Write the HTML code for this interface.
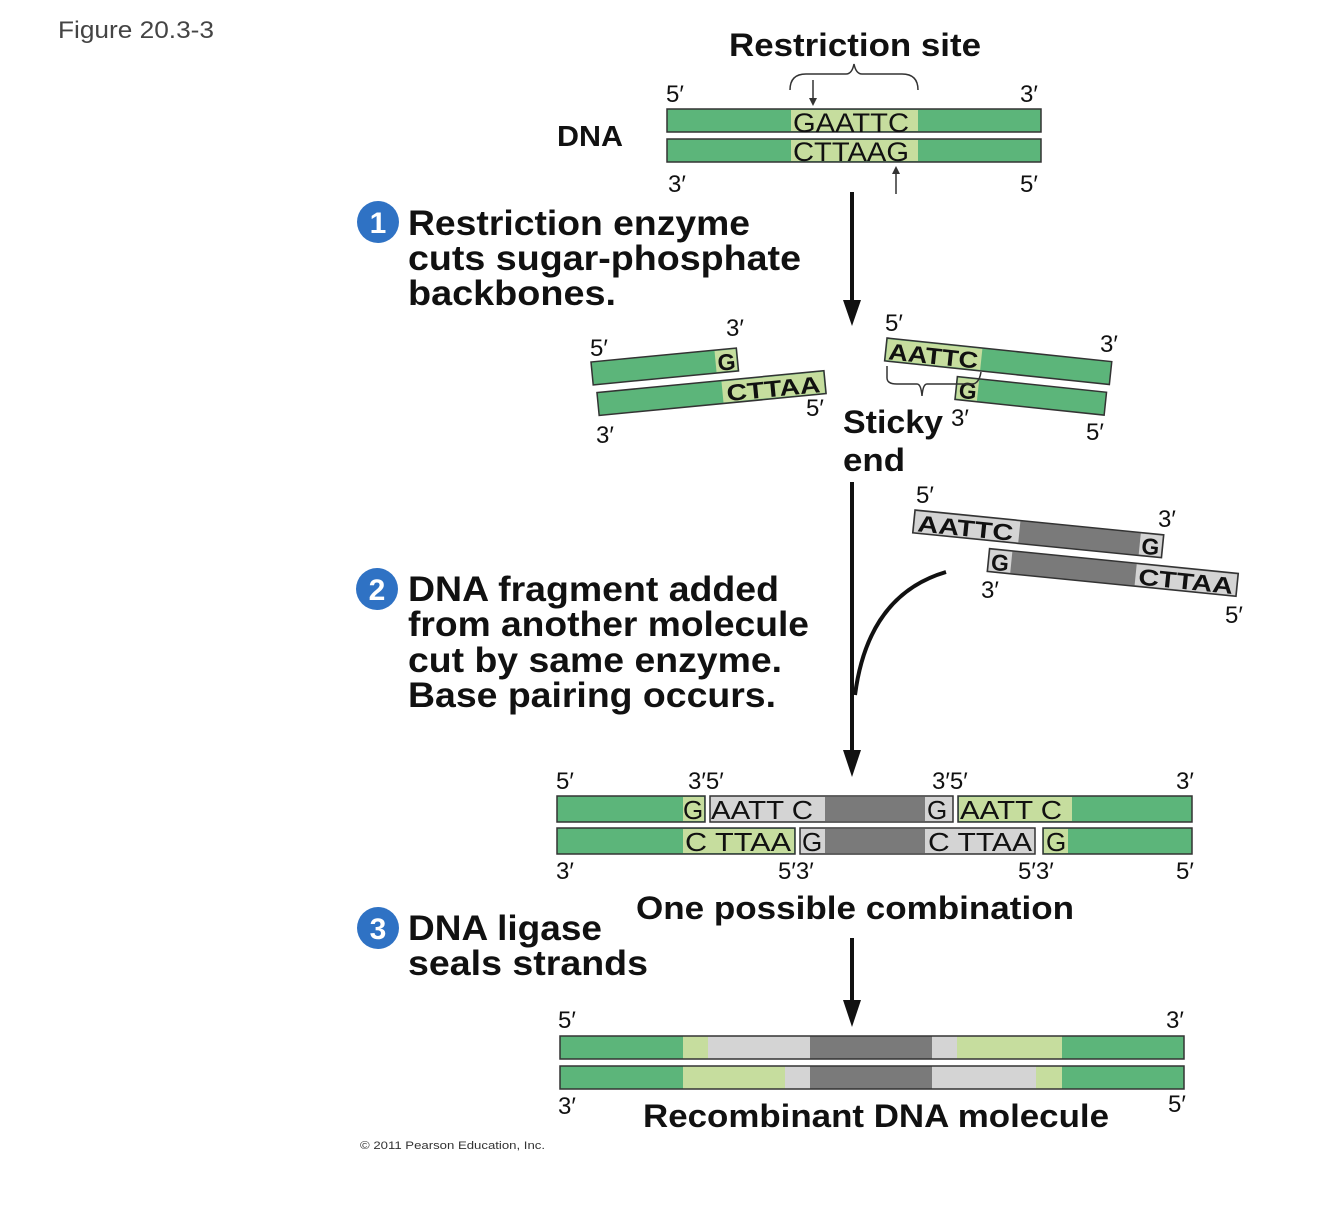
<!DOCTYPE html>
<html><head><meta charset="utf-8"><style>
html,body{margin:0;padding:0;background:#fff;}
svg{display:block;font-family:"Liberation Sans",Arial,sans-serif;}
.b{font-weight:bold;fill:#111;}
.l{font-size:24px;fill:#111;}
.s{font-size:23px;fill:#111;font-weight:bold;}
</style></head><body>
<svg width="1334" height="1228" viewBox="0 0 1334 1228" xmlns="http://www.w3.org/2000/svg">
<text x="58" y="38" font-size="24" fill="#444" textLength="156" lengthAdjust="spacingAndGlyphs">Figure 20.3-3</text>

<!-- Top DNA -->
<text x="855" y="56" class="b" font-size="32" text-anchor="middle" textLength="252" lengthAdjust="spacingAndGlyphs">Restriction site</text>
<path d="M790,90 Q790,74 806,74 L846,74 Q852,74 854,64 Q856,74 862,74 L902,74 Q918,74 918,90" fill="none" stroke="#333" stroke-width="1.5"/>
<line x1="813" y1="80" x2="813" y2="100" stroke="#333" stroke-width="1.5"/>
<polygon points="809,98 817,98 813,106" fill="#333"/>
<line x1="896" y1="194" x2="896" y2="172" stroke="#333" stroke-width="1.5"/>
<polygon points="892,174 900,174 896,166" fill="#333"/>
<text x="557" y="146" class="b" font-size="29" textLength="66" lengthAdjust="spacingAndGlyphs">DNA</text>
<rect x="667" y="109" width="374" height="23" fill="#5cb57a" stroke="#333" stroke-width="1.5"/>
<rect x="791" y="110" width="127" height="21" fill="#c6dd9e"/>
<rect x="667" y="139" width="374" height="23" fill="#5cb57a" stroke="#333" stroke-width="1.5"/>
<rect x="791" y="140" width="127" height="21" fill="#c6dd9e"/>
<text x="851" y="132" font-size="27" fill="#111" text-anchor="middle" textLength="116" lengthAdjust="spacingAndGlyphs">GAATTC</text>
<text x="851" y="161" font-size="27" fill="#111" text-anchor="middle" textLength="116" lengthAdjust="spacingAndGlyphs">CTTAAG</text>
<text x="666" y="102" class="l">5′</text><text x="1020" y="102" class="l">3′</text>
<text x="668" y="192" class="l">3′</text><text x="1020" y="192" class="l">5′</text>

<!-- step 1 -->
<circle cx="378" cy="222" r="21" fill="#2f72c4"/>
<text x="378" y="233" font-size="30" fill="#fff" font-weight="bold" text-anchor="middle">1</text>
<text x="408" y="235" class="b" font-size="35" textLength="342" lengthAdjust="spacingAndGlyphs">Restriction enzyme</text>
<text x="408" y="270" class="b" font-size="35" textLength="393" lengthAdjust="spacingAndGlyphs">cuts sugar-phosphate</text>
<text x="408" y="305" class="b" font-size="35" textLength="208" lengthAdjust="spacingAndGlyphs">backbones.</text>
<line x1="852" y1="192" x2="852" y2="305" stroke="#111" stroke-width="4"/>
<polygon points="843,300 861,300 852,326" fill="#111"/>

<!-- cut fragments -->
<g transform="translate(591,362) rotate(-5.5)">
<rect x="0" y="0" width="146" height="23" fill="#5cb57a" stroke="#333" stroke-width="1.5"/>
<rect x="124" y="1" width="21" height="21" fill="#c6dd9e"/>
<text x="126" y="21" class="s">G</text>
<rect x="3" y="31" width="228" height="23" fill="#5cb57a" stroke="#333" stroke-width="1.5"/>
<rect x="128" y="32" width="102" height="21" fill="#c6dd9e"/>
<text x="132" y="52" class="s" textLength="94" lengthAdjust="spacingAndGlyphs">CTTAA</text>
</g>
<g transform="translate(887,338) rotate(6)">
<rect x="0" y="0" width="226" height="23" fill="#5cb57a" stroke="#333" stroke-width="1.5"/>
<rect x="1" y="1" width="95" height="21" fill="#c6dd9e"/>
<text x="3" y="21" class="s" textLength="90" lengthAdjust="spacingAndGlyphs">AATTC</text>
<rect x="74" y="31" width="150" height="23" fill="#5cb57a" stroke="#333" stroke-width="1.5"/>
<rect x="75" y="32" width="21" height="21" fill="#c6dd9e"/>
<text x="77" y="52" class="s">G</text>
</g>
<path d="M887,366 L887,378 Q887,384 897,384 L917,384 Q921,384 922,396 Q923,384 927,384 L972,384 Q979,384 981,372" fill="none" stroke="#333" stroke-width="1.5"/>
<text x="590" y="356" class="l">5′</text><text x="726" y="336" class="l">3′</text>
<text x="806" y="416" class="l">5′</text><text x="596" y="443" class="l">3′</text>
<text x="885" y="331" class="l">5′</text><text x="1100" y="352" class="l">3′</text>
<text x="951" y="426" class="l">3′</text><text x="1086" y="440" class="l">5′</text>
<text x="843" y="433" class="b" font-size="32" textLength="100" lengthAdjust="spacingAndGlyphs">Sticky</text>
<text x="843" y="471" class="b" font-size="32" textLength="62" lengthAdjust="spacingAndGlyphs">end</text>

<!-- long arrow -->
<line x1="852" y1="482" x2="852" y2="752" stroke="#111" stroke-width="4"/>
<polygon points="843,750 861,750 852,777" fill="#111"/>
<path d="M946,572 Q868,595 855,695" fill="none" stroke="#111" stroke-width="4"/>

<!-- gray fragment -->
<g transform="translate(915,510) rotate(5.7)">
<rect x="0" y="0" width="250" height="23" fill="#7a7a7a" stroke="#333" stroke-width="1.5"/>
<rect x="1" y="1" width="105" height="21" fill="#d4d4d4"/>
<text x="4" y="21" class="s" textLength="96" lengthAdjust="spacingAndGlyphs">AATTC</text>
<rect x="227" y="1" width="22" height="21" fill="#d4d4d4"/>
<text x="229" y="21" class="s">G</text>
<rect x="78" y="31" width="250" height="23" fill="#7a7a7a" stroke="#333" stroke-width="1.5"/>
<rect x="79" y="32" width="22" height="21" fill="#d4d4d4"/>
<text x="81" y="52" class="s">G</text>
<rect x="226" y="32" width="101" height="21" fill="#d4d4d4"/>
<text x="229" y="52" class="s" textLength="95" lengthAdjust="spacingAndGlyphs">CTTAA</text>
</g>
<text x="916" y="503" class="l">5′</text><text x="1158" y="527" class="l">3′</text>
<text x="981" y="598" class="l">3′</text><text x="1225" y="623" class="l">5′</text>

<!-- step 2 -->
<circle cx="377" cy="589" r="21" fill="#2f72c4"/>
<text x="377" y="600" font-size="30" fill="#fff" font-weight="bold" text-anchor="middle">2</text>
<text x="408" y="601" class="b" font-size="35" textLength="371" lengthAdjust="spacingAndGlyphs">DNA fragment added</text>
<text x="408" y="636" class="b" font-size="35" textLength="401" lengthAdjust="spacingAndGlyphs">from another molecule</text>
<text x="408" y="672" class="b" font-size="35" textLength="374" lengthAdjust="spacingAndGlyphs">cut by same enzyme.</text>
<text x="408" y="707" class="b" font-size="35" textLength="368" lengthAdjust="spacingAndGlyphs">Base pairing occurs.</text>

<!-- combination -->
<g stroke="#333" stroke-width="1.5">
<rect x="557" y="796" width="148" height="26" fill="#5cb57a"/>
<rect x="710" y="796" width="243" height="26" fill="#d4d4d4"/>
<rect x="958" y="796" width="234" height="26" fill="#5cb57a"/>
<rect x="557" y="828" width="238" height="26" fill="#5cb57a"/>
<rect x="800" y="828" width="235" height="26" fill="#d4d4d4"/>
<rect x="1043" y="828" width="149" height="26" fill="#5cb57a"/>
</g>
<rect x="683" y="797" width="21" height="24" fill="#c6dd9e"/>
<rect x="825" y="797" width="100" height="24" fill="#7a7a7a"/>
<rect x="959" y="797" width="113" height="24" fill="#c6dd9e"/>
<rect x="683" y="829" width="111" height="24" fill="#c6dd9e"/>
<rect x="825" y="829" width="100" height="24" fill="#7a7a7a"/>
<rect x="1044" y="829" width="24" height="24" fill="#c6dd9e"/>
<g font-size="26" fill="#111">
<text x="683" y="819">G</text><text x="711" y="819" textLength="102" lengthAdjust="spacingAndGlyphs">AATT C</text>
<text x="927" y="819">G</text><text x="960" y="819" textLength="102" lengthAdjust="spacingAndGlyphs">AATT C</text>
<text x="685" y="851" textLength="106" lengthAdjust="spacingAndGlyphs">C TTAA</text><text x="802" y="851">G</text>
<text x="928" y="851" textLength="104" lengthAdjust="spacingAndGlyphs">C TTAA</text><text x="1046" y="851">G</text>
</g>
<text x="556" y="789" class="l">5′</text><text x="688" y="789" class="l">3′5′</text>
<text x="932" y="789" class="l">3′5′</text><text x="1176" y="789" class="l">3′</text>
<text x="556" y="879" class="l">3′</text><text x="778" y="879" class="l">5′3′</text>
<text x="1018" y="879" class="l">5′3′</text><text x="1176" y="879" class="l">5′</text>
<text x="855" y="919" class="b" font-size="32" text-anchor="middle" textLength="438" lengthAdjust="spacingAndGlyphs">One possible combination</text>

<!-- step 3 -->
<circle cx="378" cy="928" r="21" fill="#2f72c4"/>
<text x="378" y="939" font-size="30" fill="#fff" font-weight="bold" text-anchor="middle">3</text>
<text x="408" y="940" class="b" font-size="35" textLength="194" lengthAdjust="spacingAndGlyphs">DNA ligase</text>
<text x="408" y="975" class="b" font-size="35" textLength="240" lengthAdjust="spacingAndGlyphs">seals strands</text>
<line x1="852" y1="938" x2="852" y2="1005" stroke="#111" stroke-width="4"/>
<polygon points="843,1000 861,1000 852,1027" fill="#111"/>

<!-- final -->
<rect x="560" y="1036" width="624" height="23" fill="#5cb57a"/>
<rect x="683" y="1036" width="25" height="23" fill="#c6dd9e"/>
<rect x="708" y="1036" width="102" height="23" fill="#d4d4d4"/>
<rect x="810" y="1036" width="122" height="23" fill="#7a7a7a"/>
<rect x="932" y="1036" width="25" height="23" fill="#d4d4d4"/>
<rect x="957" y="1036" width="105" height="23" fill="#c6dd9e"/>
<rect x="560" y="1036" width="624" height="23" fill="none" stroke="#333" stroke-width="1.5"/>
<rect x="560" y="1066" width="624" height="23" fill="#5cb57a"/>
<rect x="683" y="1066" width="102" height="23" fill="#c6dd9e"/>
<rect x="785" y="1066" width="25" height="23" fill="#d4d4d4"/>
<rect x="810" y="1066" width="122" height="23" fill="#7a7a7a"/>
<rect x="932" y="1066" width="104" height="23" fill="#d4d4d4"/>
<rect x="1036" y="1066" width="26" height="23" fill="#c6dd9e"/>
<rect x="560" y="1066" width="624" height="23" fill="none" stroke="#333" stroke-width="1.5"/>
<text x="558" y="1028" class="l">5′</text><text x="1166" y="1028" class="l">3′</text>
<text x="558" y="1114" class="l">3′</text><text x="1168" y="1112" class="l">5′</text>
<text x="876" y="1127" class="b" font-size="32" text-anchor="middle" textLength="466" lengthAdjust="spacingAndGlyphs">Recombinant DNA molecule</text>
<text x="360" y="1149" font-size="11" fill="#333" textLength="185" lengthAdjust="spacingAndGlyphs">© 2011 Pearson Education, Inc.</text>
</svg>
</body></html>
